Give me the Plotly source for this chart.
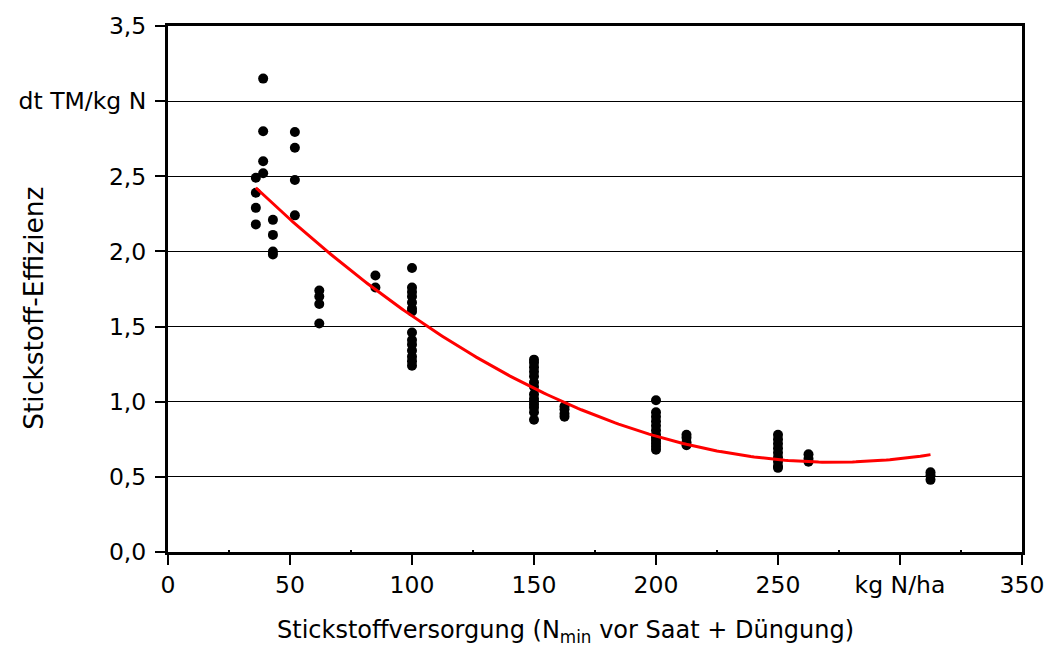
import numpy as np
import plotly.graph_objects as go

# Data
x_36 = [36, 36, 36, 36]
y_36 = [2.49, 2.39, 2.29, 2.18]
x_39 = [39, 39, 39, 39]
y_39 = [3.15, 2.80, 2.60, 2.52]
x_43 = [43, 43, 43, 43]
y_43 = [2.21, 2.11, 2.00, 1.98]
x_52 = [52, 52, 52, 52]
y_52 = [2.795, 2.69, 2.475, 2.24]
x_62 = [62, 62, 62, 62]
y_62 = [1.74, 1.70, 1.65, 1.52]
x_85 = [85, 85]
y_85 = [1.84, 1.76]
x_100 = [100] * 14
y_100 = [1.89, 1.76, 1.73, 1.70, 1.66, 1.62, 1.60, 1.46, 1.41, 1.38, 1.34, 1.30, 1.27, 1.24]
x_150 = [150] * 14
y_150 = [1.28, 1.26, 1.23, 1.20, 1.17, 1.13, 1.10, 1.05, 1.02, 1.00, 0.98, 0.96, 0.93, 0.88]
x_162 = [162.5] * 4
y_162 = [0.97, 0.95, 0.92, 0.90]
x_200 = [200] * 12
y_200 = [1.01, 0.93, 0.90, 0.87, 0.84, 0.81, 0.78, 0.76, 0.74, 0.72, 0.70, 0.68]
x_212 = [212.5] * 4
y_212 = [0.78, 0.76, 0.73, 0.71]
x_250 = [250] * 9
y_250 = [0.78, 0.75, 0.72, 0.69, 0.66, 0.63, 0.60, 0.57, 0.56]
x_262 = [262.5] * 3
y_262 = [0.65, 0.62, 0.60]
x_312 = [312.5] * 3
y_312 = [0.53, 0.51, 0.48]

x_all = x_36 + x_39 + x_43 + x_52 + x_62 + x_85 + x_100 + x_150 + x_162 + x_200 + x_212 + x_250 + x_262 + x_312
y_all = y_36 + y_39 + y_43 + y_52 + y_62 + y_85 + y_100 + y_150 + y_162 + y_200 + y_212 + y_250 + y_262 + y_312

x_ticks = [0, 50, 100, 150, 200, 250, 300, 350]
x_tick_labels = ["0", "50", "100", "150", "200", "250", "kg N/ha", "350"]
x_minor_ticks = [25, 75, 125, 175, 225, 275, 325]
y_ticks = [0, 0.5, 1.0, 1.5, 2.0, 2.5, 3.0, 3.5]
y_tick_labels = ["0,0", "0,5", "1,0", "1,5", "2,0", "2,5", "dt TM/kg N", "3,5"]

# quadratic trend line fitted to the data
coef = np.polyfit(x_all, y_all, 2)
x_fit = np.linspace(min(x_all), max(x_all), 200)
y_fit = np.polyval(coef, x_fit)

FONT = "DejaVu Sans, Liberation Sans, Arial, sans-serif"

fig = go.Figure()
fig.add_trace(go.Scatter(x=x_all, y=y_all, mode="markers",
                         marker=dict(color="black", size=10), showlegend=False))
fig.add_trace(go.Scatter(x=x_fit, y=y_fit, mode="lines",
                         line=dict(color="#ff0000", width=3), showlegend=False))

fig.update_layout(
    width=1056, height=646,
    margin=dict(l=168, r=26, t=24, b=94),
    paper_bgcolor="white", plot_bgcolor="white",
    font=dict(family=FONT, size=23.5, color="black"),
    xaxis=dict(range=[0, 350], tickmode="array", tickvals=x_ticks, ticktext=x_tick_labels,
               showline=True, linewidth=3, linecolor="black", mirror=True,
               ticks="outside", ticklen=10, tickwidth=2, tickcolor="black",
               showgrid=False, zeroline=False, ticklabelstandoff=0,
               tickfont=dict(family=FONT, size=23.5),
               minor=dict(tickvals=x_minor_ticks, ticks="inside",
                          ticklen=2, tickwidth=2, tickcolor="black")),
    yaxis=dict(range=[0, 3.5], tickmode="array", tickvals=y_ticks, ticktext=y_tick_labels,
               showline=True, linewidth=3, linecolor="black", mirror=True,
               ticks="outside", ticklen=10, tickwidth=2, tickcolor="black",
               showgrid=True, gridcolor="black", gridwidth=1, zeroline=False,
               ticklabelstandoff=4, tickfont=dict(family=FONT, size=23.5)),
    annotations=[
        dict(text="Stickstoffversorgung (N<sub>min</sub> vor Saat + Düngung)",
             xref="paper", yref="paper", x=0.466, y=-0.152, xanchor="center", yanchor="middle",
             showarrow=False, font=dict(family=FONT, size=24)),
        dict(text="Stickstoff-Effizienz", xref="paper", yref="paper",
             x=-0.157, y=0.464, xanchor="center", yanchor="middle", textangle=-90,
             showarrow=False, font=dict(family=FONT, size=26.5)),
    ],
)

fig.write_html("out.html", config={"displayModeBar": False},
               post_script="document.body.style.margin='0';")
